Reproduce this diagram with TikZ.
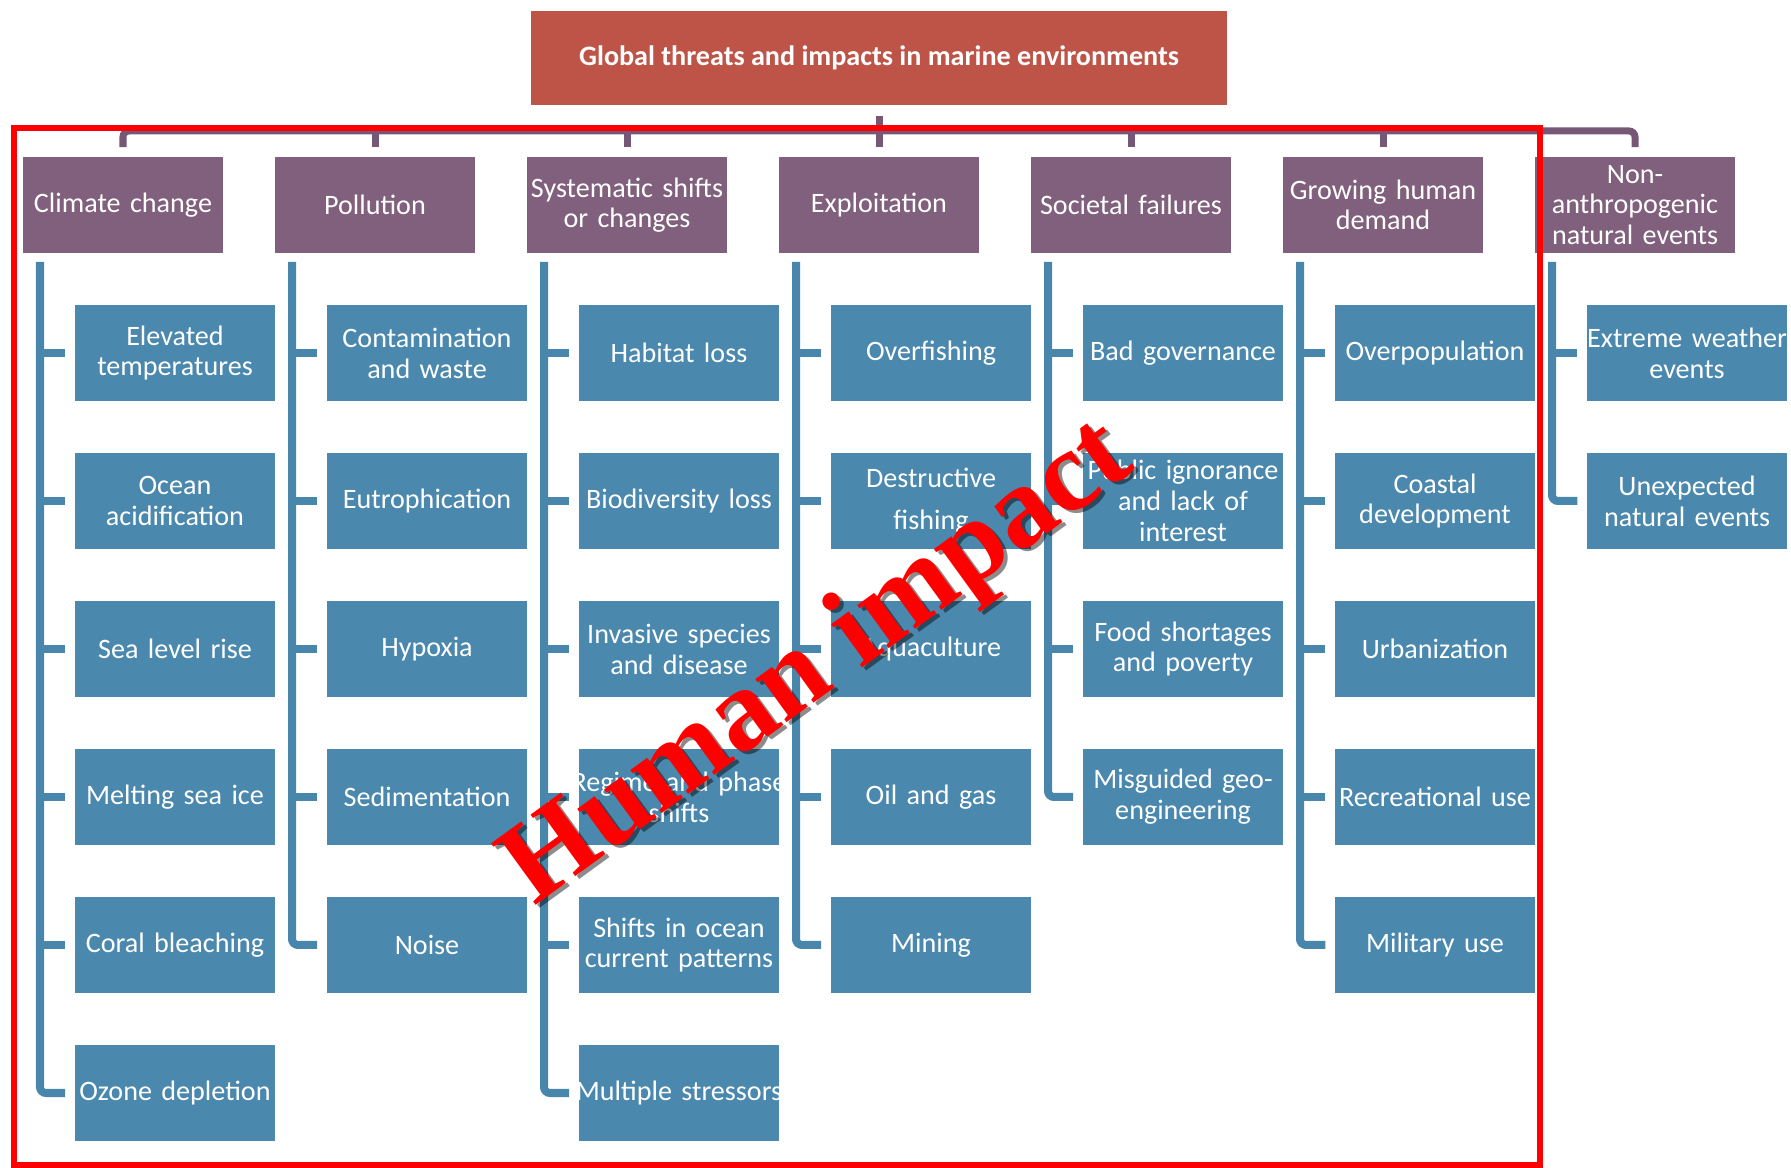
\documentclass[tikz,border=0pt]{standalone}
\usepackage{fontspec}
\setmainfont{Carlito}
\newfontfamily\stampfont{Liberation Serif}
\definecolor{headred}{RGB}{190,84,72}
\definecolor{catpurple}{RGB}{128,96,124}
\definecolor{barpurple}{RGB}{118,88,118}
\definecolor{leafblue}{RGB}{74,136,174}
\definecolor{trunkblue}{RGB}{72,134,172}
\newcommand{\wide}[1]{\makebox[0pt]{#1}}
\begin{document}
\begin{tikzpicture}[x=0.01cm,y=-0.01cm,
           head_style/.style={rectangle,fill=headred,text=white,minimum width=6.96cm,minimum height=0.94cm,font=\fontsize{8pt}{8.8pt}\selectfont\bfseries},
           cat_style/.style={rectangle,fill=catpurple,text=white,text width=2cm,inner xsep=0pt,inner ysep=0pt,align=center,minimum height=0.96cm,font=\fontsize{8pt}{8.6pt}\selectfont},
           leaf_style/.style={rectangle,fill=leafblue,text=white,text width=2cm,inner xsep=0pt,inner ysep=0pt,align=center,minimum height=0.96cm,font=\fontsize{8pt}{8.8pt}\selectfont},
           bar_style/.style={draw=barpurple,line width=0.07cm},
           trunk_style/.style={draw=trunkblue,line width=0.08cm,rounded corners=0.06cm,shorten >=0.09cm},
           frame_style/.style={draw=red,line width=0.06cm},
           stamp_style/.style={anchor=base west,rotate=36,inner sep=0pt,font=\stampfont\fontsize{33pt}{36pt}\selectfont\bfseries}]
            \useasboundingbox (0,0) rectangle (1791,1168);
            \node[head_style] (h) at (879, 58) {Global threats and impacts in marine environments};
            \node[cat_style] (c1) at (123, 205) {Climate change};
            \node[cat_style] (c2) at (375, 205) {Pollution};
            \node[cat_style] (c3) at (627, 205) {Systematic shifts\\or changes};
            \node[cat_style] (c4) at (879, 205) {Exploitation};
            \node[cat_style] (c5) at (1131, 205) {Societal failures};
            \node[cat_style] (c6) at (1383, 205) {Growing human\\demand};
            \node[cat_style] (c7) at (1635, 205) {Non-\\anthropogenic\\natural events};
            % climate change
            \node[leaf_style] (l11) at (175, 353) {Elevated\\temperatures};
            \node[leaf_style] (l12) at (175, 501) {Ocean\\acidification};
            \node[leaf_style] (l13) at (175, 649) {Sea level rise};
            \node[leaf_style] (l14) at (175, 797) {Melting sea ice};
            \node[leaf_style] (l15) at (175, 945) {Coral bleaching};
            \node[leaf_style] (l16) at (175, 1093) {Ozone depletion};
            % pollution
            \node[leaf_style] (l21) at (427, 353) {Contamination\\and waste};
            \node[leaf_style] (l22) at (427, 501) {Eutrophication};
            \node[leaf_style] (l23) at (427, 649) {Hypoxia};
            \node[leaf_style] (l24) at (427, 797) {Sedimentation};
            \node[leaf_style] (l25) at (427, 945) {Noise};
            % systematic shifts
            \node[leaf_style] (l31) at (679, 353) {Habitat loss};
            \node[leaf_style] (l32) at (679, 501) {Biodiversity loss};
            \node[leaf_style] (l33) at (679, 649) {Invasive species\\and disease};
            \node[leaf_style] (l34) at (679, 797) {\wide{Regime and phase}\\shifts};
            \node[leaf_style] (l35) at (679, 945) {Shifts in ocean\\\wide{current patterns}};
            \node[leaf_style] (l36) at (679, 1093) {\wide{Multiple stressors}};
            % exploitation
            \node[leaf_style] (l41) at (931, 353) {Overfishing};
            \node[leaf_style] (l42) at (931, 501) {Destructive\\[3pt]fishing};
            \node[leaf_style] (l43) at (931, 649) {Aquaculture};
            \node[leaf_style] (l44) at (931, 797) {Oil and gas};
            \node[leaf_style] (l45) at (931, 945) {Mining};
            % societal failures
            \node[leaf_style] (l51) at (1183, 353) {Bad governance};
            \node[leaf_style] (l52) at (1183, 501) {\wide{Public ignorance}\\and lack of\\interest};
            \node[leaf_style] (l53) at (1183, 649) {Food shortages\\and poverty};
            \node[leaf_style] (l54) at (1183, 797) {Misguided geo-\\engineering};
            % growing human demand
            \node[leaf_style] (l61) at (1435, 353) {Overpopulation};
            \node[leaf_style] (l62) at (1435, 501) {Coastal\\development};
            \node[leaf_style] (l63) at (1435, 649) {Urbanization};
            \node[leaf_style] (l64) at (1435, 797) {\wide{Recreational use}};
            \node[leaf_style] (l65) at (1435, 945) {Military use};
            % natural events
            \node[leaf_style] (l71) at (1687, 353) {\wide{Extreme weather}\\events};
            \node[leaf_style] (l72) at (1687, 501) {Unexpected\\natural events};
            % top bar
            \coordinate (hub) at (879, 131);
            \draw[bar_style, shorten <=0.1cm] (h.south) -- (hub);
            \draw[bar_style, rounded corners=0.06cm, shorten <=0.09cm, shorten >=0.09cm] (c1.north) |- (hub) -| (c7.north);
            \draw[bar_style, shorten >=0.09cm] (c2.north |- hub) -- (c2.north);
            \draw[bar_style, shorten >=0.09cm] (c3.north |- hub) -- (c3.north);
            \draw[bar_style, shorten >=0.09cm] (c4.north |- hub) -- (c4.north);
            \draw[bar_style, shorten >=0.09cm] (c5.north |- hub) -- (c5.north);
            \draw[bar_style, shorten >=0.09cm] (c6.north |- hub) -- (c6.north);
            % trunks
            \coordinate (k1) at (40, 262);
            \coordinate (k2) at (292, 262);
            \coordinate (k3) at (544, 262);
            \coordinate (k4) at (796, 262);
            \coordinate (k5) at (1048, 262);
            \coordinate (k6) at (1300, 262);
            \coordinate (k7) at (1552, 262);
            \draw[trunk_style] (k1) |- (l16.west);
            \draw[trunk_style] (k1 |- l11.west) -- (l11.west);
            \draw[trunk_style] (k1 |- l12.west) -- (l12.west);
            \draw[trunk_style] (k1 |- l13.west) -- (l13.west);
            \draw[trunk_style] (k1 |- l14.west) -- (l14.west);
            \draw[trunk_style] (k1 |- l15.west) -- (l15.west);
            \draw[trunk_style] (k2) |- (l25.west);
            \draw[trunk_style] (k2 |- l21.west) -- (l21.west);
            \draw[trunk_style] (k2 |- l22.west) -- (l22.west);
            \draw[trunk_style] (k2 |- l23.west) -- (l23.west);
            \draw[trunk_style] (k2 |- l24.west) -- (l24.west);
            \draw[trunk_style] (k3) |- (l36.west);
            \draw[trunk_style] (k3 |- l31.west) -- (l31.west);
            \draw[trunk_style] (k3 |- l32.west) -- (l32.west);
            \draw[trunk_style] (k3 |- l33.west) -- (l33.west);
            \draw[trunk_style] (k3 |- l34.west) -- (l34.west);
            \draw[trunk_style] (k3 |- l35.west) -- (l35.west);
            \draw[trunk_style] (k4) |- (l45.west);
            \draw[trunk_style] (k4 |- l41.west) -- (l41.west);
            \draw[trunk_style] (k4 |- l42.west) -- (l42.west);
            \draw[trunk_style] (k4 |- l43.west) -- (l43.west);
            \draw[trunk_style] (k4 |- l44.west) -- (l44.west);
            \draw[trunk_style] (k5) |- (l54.west);
            \draw[trunk_style] (k5 |- l51.west) -- (l51.west);
            \draw[trunk_style] (k5 |- l52.west) -- (l52.west);
            \draw[trunk_style] (k5 |- l53.west) -- (l53.west);
            \draw[trunk_style] (k6) |- (l65.west);
            \draw[trunk_style] (k6 |- l61.west) -- (l61.west);
            \draw[trunk_style] (k6 |- l62.west) -- (l62.west);
            \draw[trunk_style] (k6 |- l63.west) -- (l63.west);
            \draw[trunk_style] (k6 |- l64.west) -- (l64.west);
            \draw[trunk_style] (k7) |- (l72.west);
            \draw[trunk_style] (k7 |- l71.west) -- (l71.west);
            % human impact frame
            \draw[frame_style] (14, 128) rectangle (1540, 1165);
            \node[stamp_style, text=black, opacity=0.45] (hs) at (538, 910) {Human impact};
            \node[stamp_style, text=red] (hi) at (534, 907) {Human impact};
        \end{tikzpicture}
\end{document}
